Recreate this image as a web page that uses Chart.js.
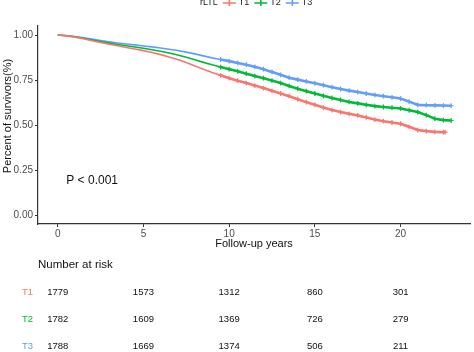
<!DOCTYPE html>
<html>
<head>
<meta charset="utf-8">
<script src="https://cdn.jsdelivr.net/npm/chart.js@4"></script>
<style>
  html, body { margin: 0; padding: 0; background: #fff; }
  #wrap { width: 474px; height: 352px; }
</style>
</head>
<body>
<div id="wrap"><canvas id="km" width="474" height="352"></canvas></div>
<script>
const years = [0, 0.5, 1, 1.5, 2, 2.5, 3, 3.5, 4, 4.5, 5, 5.5, 6, 6.5, 7, 7.5, 8, 8.5, 9, 9.5,
  10, 10.5, 11, 11.5, 12, 12.5, 13, 13.5, 14, 14.5, 15, 15.5, 16, 16.5, 17, 17.5, 18, 18.5,
  19, 19.5, 20, 20.5, 21, 21.5, 22, 22.5];
const groups = ['T1', 'T2', 'T3'];
const survT1 = [1.000, 0.995, 0.988, 0.979, 0.968, 0.958, 0.949, 0.940, 0.931, 0.922, 0.913, 0.903,
  0.891, 0.878, 0.864, 0.847, 0.828, 0.810, 0.792, 0.776, 0.760, 0.746, 0.733, 0.719, 0.705, 0.690,
  0.675, 0.660, 0.643, 0.627, 0.612, 0.597, 0.583, 0.572, 0.562, 0.553, 0.542, 0.530, 0.521, 0.514,
  0.507, 0.490, 0.472, 0.466, 0.462, 0.460];
const survT2 = [1.000, 0.996, 0.990, 0.982, 0.972, 0.963, 0.955, 0.947, 0.940, 0.933, 0.926, 0.918,
  0.910, 0.900, 0.889, 0.876, 0.862, 0.848, 0.835, 0.822, 0.810, 0.798, 0.785, 0.772, 0.760, 0.747,
  0.733, 0.717, 0.702, 0.688, 0.675, 0.662, 0.650, 0.639, 0.628, 0.620, 0.612, 0.605, 0.600, 0.596,
  0.592, 0.582, 0.572, 0.555, 0.535, 0.527];
const survT3 = [1.000, 0.997, 0.992, 0.985, 0.977, 0.969, 0.962, 0.956, 0.950, 0.945, 0.939, 0.934,
  0.928, 0.921, 0.914, 0.905, 0.895, 0.884, 0.873, 0.864, 0.855, 0.845, 0.835, 0.823, 0.810, 0.795,
  0.779, 0.763, 0.752, 0.742, 0.732, 0.721, 0.710, 0.700, 0.691, 0.683, 0.675, 0.667, 0.660, 0.654,
  0.647, 0.630, 0.612, 0.610, 0.609, 0.608];
// last follow-up time of each curve
const endTimes = [22.6, 22.95, 22.95];
const endSurv = [0.460, 0.525, 0.607];

// number at risk table
const riskTimes = [0, 5, 10, 15, 20];
const riskT1 = [1779, 1573, 1312, 860, 301];
const riskT2 = [1782, 1609, 1369, 726, 279];
const riskT3 = [1788, 1669, 1374, 506, 211];

const xTicks = [0, 5, 10, 15, 20];
const yTicks = [0, 0.25, 0.5, 0.75, 1];
const colors = ['#F8766D', '#00BA38', '#619CFF'];
const FONT = 'Liberation Sans, Arial, sans-serif';
const censorFrom = 9.5; // heavy censoring starts around here

function toPoints(s, i) {
  const pts = years.map((t, k) => ({ x: t, y: s[k] }));
  pts.push({ x: endTimes[i], y: endSurv[i] });
  return pts;
}

const allSurv = [survT1, survT2, survT3];
const allRisk = [riskT1, riskT2, riskT3];

const datasets = groups.map((g, i) => ({
  label: g,
  data: toPoints(allSurv[i], i),
  borderColor: colors[i],
  backgroundColor: colors[i],
  borderWidth: 1.6,
  tension: 0,
  segment: {
    borderWidth: ctx => (ctx.p0.parsed.x >= censorFrom ? 2.6 : 1.6)
  },
  pointStyle: 'cross',
  pointBorderWidth: 1.2,
  pointRadius: ctx => (ctx.raw && ctx.raw.x >= censorFrom ? 2.4 : 0),
  pointHoverRadius: 0
}));

// legend, axis titles, p-value and risk table drawn on the canvas
const extras = {
  id: 'extras',
  afterDraw(chart) {
    const c = chart.ctx;
    const xs = chart.scales.x;
    const ys = chart.scales.y;
    c.save();

    // legend across the top
    c.font = '9px ' + FONT;
    c.textBaseline = 'middle';
    c.fillStyle = '#222';
    let lx = 200;
    const ly = 3;
    c.fillText('rLTL', lx, ly);
    lx += c.measureText('rLTL').width + 5;
    groups.forEach((g, i) => {
      c.strokeStyle = colors[i];
      c.lineWidth = 1.6;
      c.beginPath();
      c.moveTo(lx, ly); c.lineTo(lx + 13, ly);
      c.moveTo(lx + 6.5, ly - 3); c.lineTo(lx + 6.5, ly + 3);
      c.stroke();
      lx += 16;
      c.fillStyle = '#222';
      c.fillText(g, lx, ly);
      lx += c.measureText(g).width + 5;
    });

    // axis titles
    c.font = '11px ' + FONT;
    c.fillStyle = '#111';
    c.textAlign = 'center';
    c.fillText('Follow-up years', (xs.left + xs.right) / 2, 244);
    c.save();
    c.translate(8, 116);
    c.rotate(-Math.PI / 2);
    c.fillText('Percent of survivors(%)', 0, 0);
    c.restore();

    // log-rank p value
    c.textAlign = 'left';
    c.font = '12px ' + FONT;
    c.fillText('P < 0.001', xs.getPixelForValue(0.5), ys.getPixelForValue(0.19));

    // number at risk
    c.font = '11.5px ' + FONT;
    c.fillText('Number at risk', 38, 265);
    c.font = '9.5px ' + FONT;
    const rowY = [292, 319, 346];
    groups.forEach((g, i) => {
      c.textAlign = 'left';
      c.fillStyle = colors[i];
      c.fillText(g, 22, rowY[i]);
      c.fillStyle = '#111';
      c.textAlign = 'center';
      riskTimes.forEach((t, k) => {
        c.fillText(String(allRisk[i][k]), xs.getPixelForValue(t), rowY[i]);
      });
    });
    c.restore();
  }
};

new Chart(document.getElementById('km'), {
  type: 'line',
  data: { datasets },
  options: {
    responsive: false,
    animation: false,
    layout: { padding: { top: 26, right: 4, left: 0, bottom: 0 } },
    plugins: { legend: { display: false }, tooltip: { enabled: false } },
    scales: {
      x: {
        type: 'linear',
        min: -1.15,
        max: 24.05,
        afterBuildTicks: s => { s.ticks = xTicks.map(v => ({ value: v })); },
        afterFit: s => { s.height = 128; },
        grid: { drawOnChartArea: false, drawTicks: true, tickLength: 3, color: '#333' },
        border: { display: true, color: '#333', width: 1.2 },
        ticks: { color: '#4d4d4d', font: { size: 10, family: FONT }, padding: 1, maxRotation: 0 },
        title: { display: false }
      },
      y: {
        type: 'linear',
        min: -0.05,
        max: 1.05,
        afterBuildTicks: s => { s.ticks = yTicks.map(v => ({ value: v })); },
        afterFit: s => { s.width = 38; },
        grid: { drawOnChartArea: false, drawTicks: true, tickLength: 3, color: '#333' },
        border: { display: true, color: '#333', width: 1.2 },
        ticks: { color: '#4d4d4d', font: { size: 10, family: FONT }, padding: 2, callback: v => Number(v).toFixed(2) },
        title: { display: false }
      }
    }
  },
  plugins: [extras]
});
</script>
</body>
</html>
